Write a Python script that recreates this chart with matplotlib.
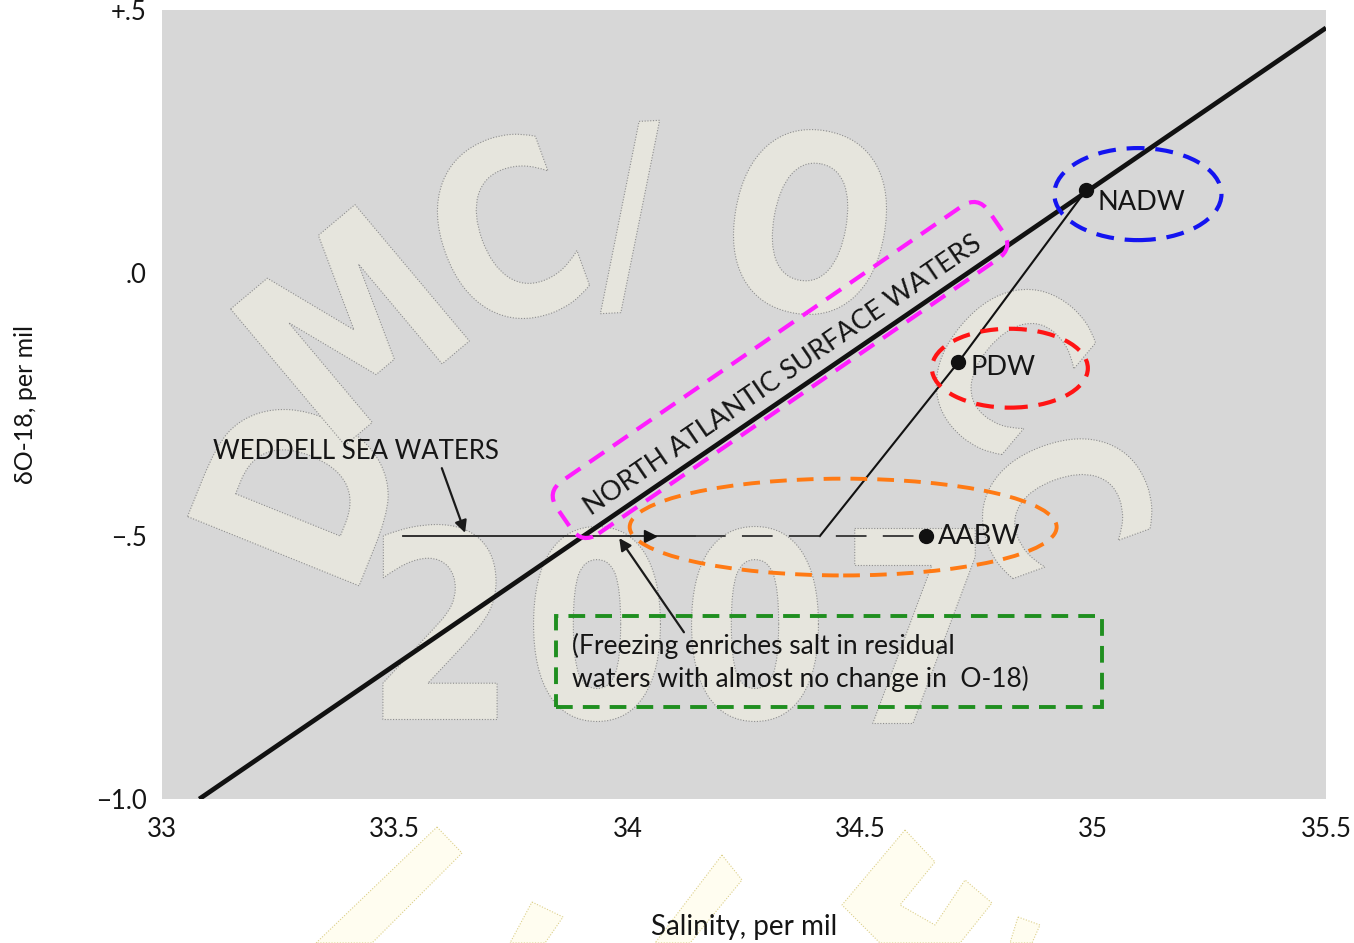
import matplotlib
matplotlib.use("Agg")
import matplotlib.pyplot as plt
from matplotlib.patches import Ellipse, Rectangle, FancyBboxPatch, PathPatch, Polygon
from matplotlib.textpath import TextPath
from matplotlib.font_manager import FontProperties
from matplotlib.transforms import Affine2D

FONT = ["Lato", "DejaVu Sans"]
INK = "#151515"
W_PX, H_PX = 1354, 943

# ---- data (salinity per mil, delta O-18 per mil) ----
MAIN_SAL = [33.08, 35.50]          # North Atlantic surface water trend
MAIN_D18 = [-1.00, 0.466]
MASS_NAMES = ["NADW", "PDW", "AABW"]
MASS_SAL = [34.985, 34.71, 34.64]
MASS_D18 = [0.158, -0.17, -0.50]
MIX_SAL = [34.985, 34.71, 34.413]   # NADW - PDW - AABW mixing line
MIX_D18 = [0.158, -0.17, -0.50]
WEDDELL_SAL = [33.518, 34.145]
WEDDELL_D18 = [-0.50, -0.50]
FREEZE_SAL = [34.145, 34.64]
FREEZE_D18 = [-0.50, -0.50]
FREEZE_ARROW_SAL = [34.048]
FREEZE_ARROW_D18 = [-0.50]

X_TICKS = [33, 33.5, 34, 34.5, 35, 35.5]
X_LABELS = ["33", "33.5", "34", "34.5", "35", "35.5"]
Y_TICKS = [0.5, 0.0, -0.5, -1.0]
Y_LABELS = ["+.5", ".0", "\u2212.5", "\u22121.0"]

fig = plt.figure(figsize=(W_PX / 100, H_PX / 100), dpi=100)
fig.patch.set_facecolor("white")
ax = fig.add_axes([162 / W_PX, 1 - 799 / H_PX, 1164 / W_PX, 789 / H_PX])
ax.set_facecolor("#d7d7d7")
ax.set_xlim(33, 35.5)
ax.set_ylim(-1.0, 0.5)
for s in ax.spines.values():
    s.set_visible(False)

# ---- ticks: labels everywhere, marks only on inner values, all four sides ----
ax.set_xticks(X_TICKS, X_LABELS)
ax.set_yticks(Y_TICKS, Y_LABELS)
ax.set_xticks(X_TICKS[1:-1], minor=True)
ax.set_yticks(Y_TICKS[1:-1], minor=True)
ax.tick_params(which="major", length=0, labelsize=18.5, colors=INK)
ax.tick_params(axis="x", which="major", pad=13)
ax.tick_params(axis="y", which="major", pad=11)
ax.tick_params(which="minor", direction="in", length=20, width=1.8, color="#111",
               top=True, bottom=True, left=True, right=True)
for lab in ax.get_xticklabels() + ax.get_yticklabels():
    lab.set_family(FONT)

ax.set_xlabel("Salinity, per mil", fontsize=20, family=FONT, color=INK, labelpad=52)
ax.set_ylabel("\u03b4O-18, per mil", fontsize=18, family=FONT, color=INK)
ax.yaxis.set_label_coords(-0.107, 0.5)


# ---- faint stencil lettering behind the plot ----
def px(x, y):
    return x / 100, (H_PX - y) / 100


def stencil(ch, cx, cy, h, rot, sx=0.82):
    tp = TextPath((0, 0), ch, size=100,
                  prop=FontProperties(family="DejaVu Sans", weight="bold"))
    bb = tp.get_extents()
    k = h / bb.height / 100
    ix, iy = px(cx, cy)
    tr = (Affine2D().translate(-(bb.x0 + bb.width / 2), -(bb.y0 + bb.height / 2))
          .scale(k * sx, k).rotate_deg(rot).translate(ix, iy))
    ax.add_patch(PathPatch(tp, transform=tr + fig.dpi_scale_trans, facecolor="#e6e5dd",
                           edgecolor="#8e8e8e", lw=0.8, linestyle=(0, (1, 1.5)), zorder=0.5))


for ch, cx, cy, h, rot in [("D", 300, 485, 185, 68), ("M", 350, 325, 178, 40),
                           ("C", 504, 232, 185, 20), ("/", 630, 217, 190, 3),
                           ("O", 810, 222, 185, -10), ("C", 1005, 362, 170, -40),
                           ("C", 1062, 500, 170, -70),
                           ("2", 440, 622, 195, 0), ("0", 597, 624, 195, 0),
                           ("0", 755, 624, 195, 0), ("7", 915, 626, 195, 0)]:
    stencil(ch, cx, cy, h, rot)

# pale yellow stencil strokes under the axis
for poly in [[(437, 827), (462, 853), (372, 943), (316, 943)],
             [(532, 902), (563, 917), (545, 943), (510, 943)],
             [(722, 855), (742, 880), (690, 943), (655, 943)],
             [(905, 830), (935, 862), (900, 905), (935, 925), (965, 880), (992, 903),
              (960, 943), (880, 943), (842, 905)],
             [(1018, 917), (1040, 925), (1032, 943), (1010, 943)]]:
    fig.add_artist(Polygon([px(x, y) for x, y in poly], closed=True,
                           transform=fig.dpi_scale_trans, facecolor="#fffdf0",
                           edgecolor="#dcd08a", lw=0.8, linestyle=(0, (1, 1.5)), zorder=0))

# ---- lines and points ----
ax.plot(MAIN_SAL, MAIN_D18, color="#111", lw=3.4, solid_capstyle="butt", zorder=4)
ax.plot(MIX_SAL, MIX_D18, color="#111", lw=1.5, zorder=4)
ax.plot(WEDDELL_SAL, WEDDELL_D18, color="#222", lw=1.3, zorder=4)
ax.plot(FREEZE_SAL, FREEZE_D18, color="#333", lw=1.3, linestyle=(0, (17, 9)), zorder=4)
ax.plot(FREEZE_ARROW_SAL, FREEZE_ARROW_D18, marker=">", ms=8, color="#111",
        linestyle="none", zorder=5)
ax.plot(MASS_SAL, MASS_D18, marker="o", ms=10, color="#111", linestyle="none", zorder=5)

offsets = {"NADW": (8, -9), "PDW": (9, -4), "AABW": (9, 0)}
for name, s, d in zip(MASS_NAMES, MASS_SAL, MASS_D18):
    ax.annotate(name, (s, d), xytext=offsets[name], textcoords="offset points",
                ha="left", va="center", fontsize=19.5, family=FONT, color=INK, zorder=6)

ax.text(34.334, -0.195, "NORTH ATLANTIC SURFACE WATERS", rotation=34.4,
        rotation_mode="anchor", ha="center", va="center", fontsize=19.5,
        family=FONT, color=INK, zorder=6)
ax.text(33.110, -0.340, "WEDDELL SEA WATERS", ha="left", va="center",
        fontsize=18.5, family=FONT, color=INK, zorder=6)
ax.text(33.881, -0.740, "(Freezing enriches salt in residual\n"
        "waters with almost no change in  O-18)", ha="left", va="center",
        fontsize=19, family=FONT, color=INK, linespacing=1.3, zorder=6)

arrow = dict(arrowstyle="-|>", lw=1.6, color="#1a1a1a", mutation_scale=18,
             shrinkA=0, shrinkB=0)
ax.annotate("", xy=(33.651, -0.494), xytext=(33.601, -0.371), arrowprops=arrow, zorder=6)
ax.annotate("", xy=(33.982, -0.504), xytext=(34.121, -0.683), arrowprops=arrow, zorder=6)

# ---- coloured dashed highlights ----
dash = (0, (4.3, 2.6))
ax.add_patch(Ellipse((35.096, 0.150), 0.359, 0.175, fill=False, edgecolor="#1414f0",
                     lw=3, linestyle=dash, zorder=7))
ax.add_patch(Ellipse((34.821, -0.181), 0.335, 0.150, fill=False, edgecolor="#ff1414",
                     lw=3, linestyle=dash, zorder=7))
ax.add_patch(Ellipse((34.463, -0.483), 0.917, 0.184, fill=False, edgecolor="#ff7a14",
                     lw=2.8, linestyle=dash, zorder=7))
ax.add_patch(Rectangle((33.846, -0.826), 1.173, 0.173, fill=False, edgecolor="#1f8f1f",
                       lw=2.8, linestyle=dash, zorder=7))
bx, by = px(780, 370)
ax.add_patch(FancyBboxPatch((-2.62, -0.32), 5.24, 0.64,
                            boxstyle="round,pad=0,rounding_size=0.2",
                            transform=Affine2D().rotate_deg(34.5).translate(bx, by)
                            + fig.dpi_scale_trans,
                            fill=False, edgecolor="#ff1cff", lw=3, linestyle=dash, zorder=7))

fig.savefig("out.png", dpi=100, facecolor="white")
